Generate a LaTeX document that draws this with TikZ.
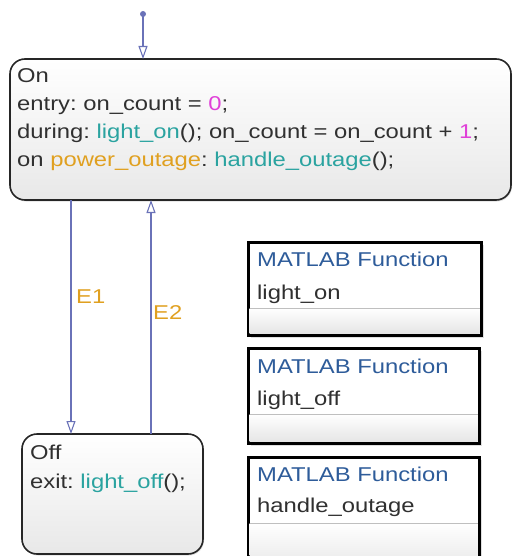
\documentclass[tikz,border=0pt]{standalone}
\usepackage{fontspec}
\setmainfont[FakeStretch=1.19]{Liberation Sans}
\usetikzlibrary{arrows.meta,shadows}
\definecolor{trans}{HTML}{6A72B8}
\definecolor{teal}{HTML}{2AA3A0}
\definecolor{evorange}{HTML}{E0A020}
\definecolor{mag}{HTML}{E040D8}
\definecolor{mlblue}{HTML}{2E5C9A}
\definecolor{txt}{HTML}{303030}
\tikzset{
  statebox/.style={draw=black!85, line width=1.6pt, rounded corners=15pt, top color=white, bottom color=black!9, drop shadow={shadow xshift=1pt, shadow yshift=-1.5pt, opacity=0.25}},
  funcbox/.style={draw=black, line width=3pt, fill=white},
  lbl/.style={anchor=base west, inner sep=0pt, font=\fontsize{20}{24}\selectfont\frenchspacing, text=txt},
  trline/.style={draw=trans, line width=1.2pt},
  tarrow/.style={-{Triangle[open, length=13pt, width=9pt, line width=1.1pt, fill=white]}}
}
\begin{document}
\begin{tikzpicture}[x=1pt,y=-1pt]
\useasboundingbox (0,0) rectangle (513,556);
\begin{scope}
\clip (0,0) rectangle (513,556);
% On state
\path[statebox] (10,59) rectangle (511,200);
\node[coordinate] (ontop) at (143,59) {};
\node[coordinate] (onbotL) at (71,200) {};
\node[coordinate] (onbotR) at (151,200) {};
\node[lbl] (on1) at (17,83) {On};
\node[lbl] (on2) at (17,111) {entry: on\_count = \textcolor{mag}{0};};
\node[lbl] (on3) at (17,139) {during: \textcolor{teal}{light\_on}(); on\_count = on\_count + \textcolor{mag}{1};};
\node[lbl] (on4) at (17,167) {on \textcolor{evorange}{power\_outage}: \textcolor{teal}{handle\_outage}();};
% Off state
\path[statebox] (22,434) rectangle (203,554);
\node[coordinate] (offtopL) at (71,434) {};
\node[coordinate] (offtopR) at (151,434) {};
\node[lbl] (off1) at (30,459) {Off};
\node[lbl] (off2) at (30,488) {exit: \textcolor{teal}{light\_off}();};
% default transition
\fill[trans] (143,14) circle (3pt);
\node[coordinate] (dot) at (143,14) {};
\draw[trline, tarrow] (dot) -- (ontop);
% transitions
\draw[trline, tarrow] (onbotL) -- (offtopL);
\draw[trline, tarrow] (offtopR) -- (onbotR);
\node[lbl, text=evorange] (e1) at (76,303) {E1};
\node[lbl, text=evorange] (e2) at (153,319) {E2};
% MATLAB function boxes
\foreach \t/\b/\r/\nm/\tb/\nb [count=\i] in {242/335/481/light\_on/266/299, 348/443/479/light\_off/373/405, 457/575/479/handle\_outage/481/512}{
  \fill[black!25, opacity=0.5] (251,\t+3) rectangle (\r+3,\b+3);
  \path[funcbox] (248,\t) rectangle (\r,\b);
  \shade[top color=white, bottom color=black!10] (249.5,\t+66) rectangle (\r-1.5,\b-1.5);
  \draw[black!25, line width=0.8pt] (249.5,\t+66) -- (\r-1.5,\t+66);
  \node[lbl, text=mlblue] (ft\i) at (257,\tb) {MATLAB Function};
  \node[lbl] (fn\i) at (257,\nb) {\nm};
}
\end{scope}
\end{tikzpicture}
\end{document}
